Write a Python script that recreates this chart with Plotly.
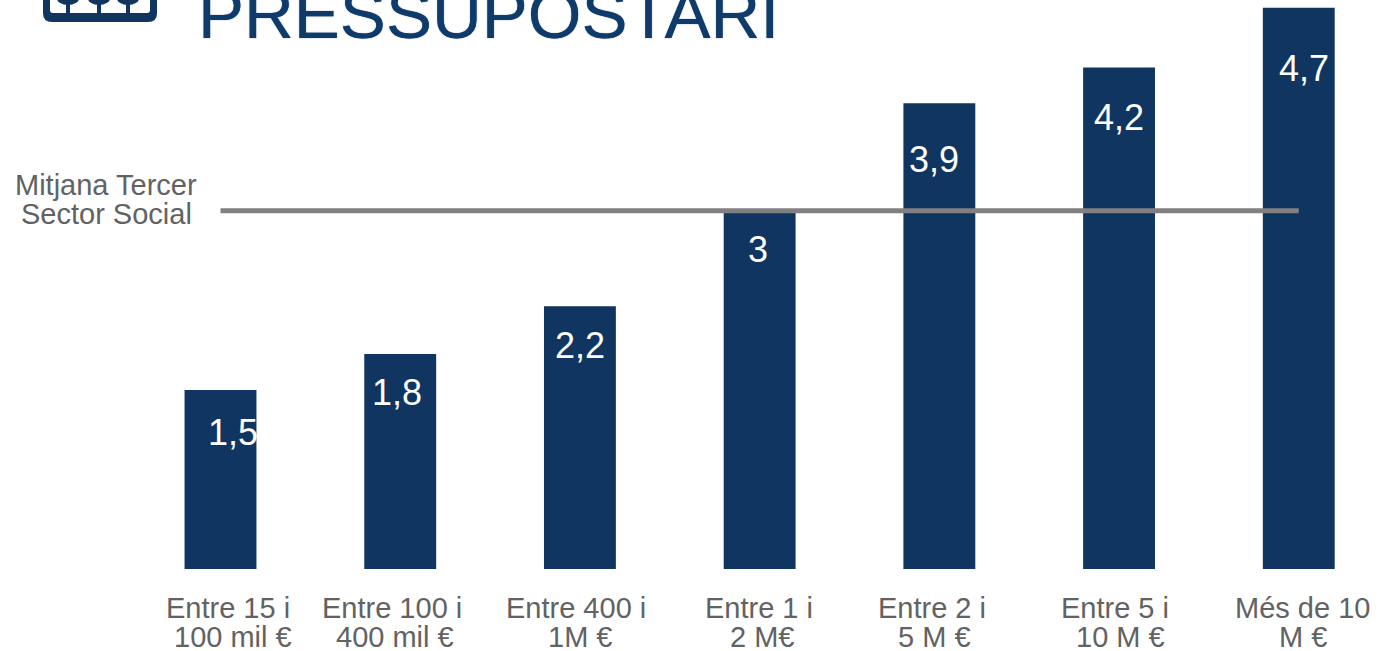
import plotly.graph_objects as go

categories = ["Entre 15 i / 100 mil €", "Entre 100 i / 400 mil €", "Entre 400 i / 1M €",
              "Entre 1 i / 2 M€", "Entre 2 i / 5 M €", "Entre 5 i / 10 M €", "Més de 10 / M €"]
label_line1 = ["Entre 15 i", "Entre 100 i", "Entre 400 i", "Entre 1 i", "Entre 2 i", "Entre 5 i", "Més de 10"]
label_line2 = ["100 mil €", "400 mil €", "1M €", "2 M€", "5 M €", "10 M €", "M €"]
values = [1.5, 1.8, 2.2, 3.0, 3.9, 4.2, 4.7]
value_labels = ["1,5", "1,8", "2,2", "3", "3,9", "4,2", "4,7"]
average_value = 3.0
average_label = ["Mitjana Tercer", "Sector Social"]
title_text = "PRESSUPOSTARI"

NAVY = "#0f3560"
GREY = "#626262"
FONT = "Liberation Sans"
W, H, BOTTOM = 1380, 651, 82

# hand placement of the labels in the source image (pixels)
val_dx = [12, -3, 0, -2, -5, 0, 5]
val_dy = [-43, -38, -39, -39, -56, -50, -61]
l1_dx = [7, -8, -4, -1, -7, -4, 4]
l2_dx = [12, -5, 0, 2, -5, 1, 4]

fig = go.Figure()
fig.add_bar(x=categories, y=values, width=0.4, marker=dict(color=NAVY, line=dict(width=0)), hoverinfo="skip")
fig.add_scatter(x=[categories[0], categories[-1]], y=[average_value, average_value], mode="lines",
                line=dict(color="#808080", width=5), hoverinfo="skip")

for i, c in enumerate(categories):
    fig.add_annotation(x=c, y=values[i], text=value_labels[i], showarrow=False, yshift=val_dy[i], xshift=val_dx[i],
                       xanchor="center", font=dict(family=FONT, size=36, color="white"))
    fig.add_annotation(x=c, y=0, text=label_line1[i], showarrow=False, yshift=-39, xshift=l1_dx[i],
                       xanchor="center", font=dict(family=FONT, size=29, color=GREY))
    fig.add_annotation(x=c, y=0, text=label_line2[i], showarrow=False, yshift=-68, xshift=l2_dx[i],
                       xanchor="center", font=dict(family=FONT, size=29, color=GREY))

for t, dy in zip(average_label, (26, -3)):
    fig.add_annotation(xref="paper", yref="y", x=106 / W, y=average_value, text=t, showarrow=False,
                       xanchor="center", yshift=dy, font=dict(family=FONT, size=29, color=GREY))

fig.add_annotation(xref="paper", yref="paper", x=196 / W, y=1.0, yanchor="bottom", xanchor="left",
                   yshift=-55, text=title_text, showarrow=False,
                   font=dict(family=FONT, size=69, color="#0f3b6b", shadow="0 0 1px #0f3b6b"))


def px(x):
    return x / W


def py(y):
    return 1 - y / (H - BOTTOM)


def rect_path(x0, y0, x1, y1, r):
    return (f"M {px(x0)} {py(y0)} L {px(x1)} {py(y0)} L {px(x1)} {py(y1 - r)} "
            f"Q {px(x1)} {py(y1)} {px(x1 - r)} {py(y1)} L {px(x0 + r)} {py(y1)} "
            f"Q {px(x0)} {py(y1)} {px(x0)} {py(y1 - r)} Z")


logo = [dict(type="path", path=rect_path(43, -10, 157, 22, 9), fillcolor=NAVY, line=dict(width=0)),
        dict(type="path", path=rect_path(50, -10, 150, 13, 3), fillcolor="white", line=dict(width=0))]
for cx in (68, 99, 128):
    logo.append(dict(type="rect", x0=px(cx - 2), x1=px(cx + 2), y0=py(14), y1=py(0), fillcolor=NAVY, line=dict(width=0)))
    logo.append(dict(type="circle", x0=px(cx - 11), x1=px(cx + 11), y0=py(5), y1=py(-8), fillcolor=NAVY, line=dict(width=0)))
for s in logo:
    s.update(xref="paper", yref="paper")

fig.update_layout(
    width=W, height=H, showlegend=False, paper_bgcolor="white", plot_bgcolor="white",
    margin=dict(l=0, r=0, t=0, b=BOTTOM), autosize=False, shapes=logo,
    xaxis=dict(type="category", categoryorder="array", categoryarray=categories, range=[-1.227, 6.452],
               showticklabels=False, showgrid=False, zeroline=False, showline=False, ticks=""),
    yaxis=dict(range=[0, 4.765], visible=False),
)
fig.write_html("out.html", config=dict(displayModeBar=False),
               post_script="document.documentElement.style.overflow='hidden';document.body.style.margin='0';")
